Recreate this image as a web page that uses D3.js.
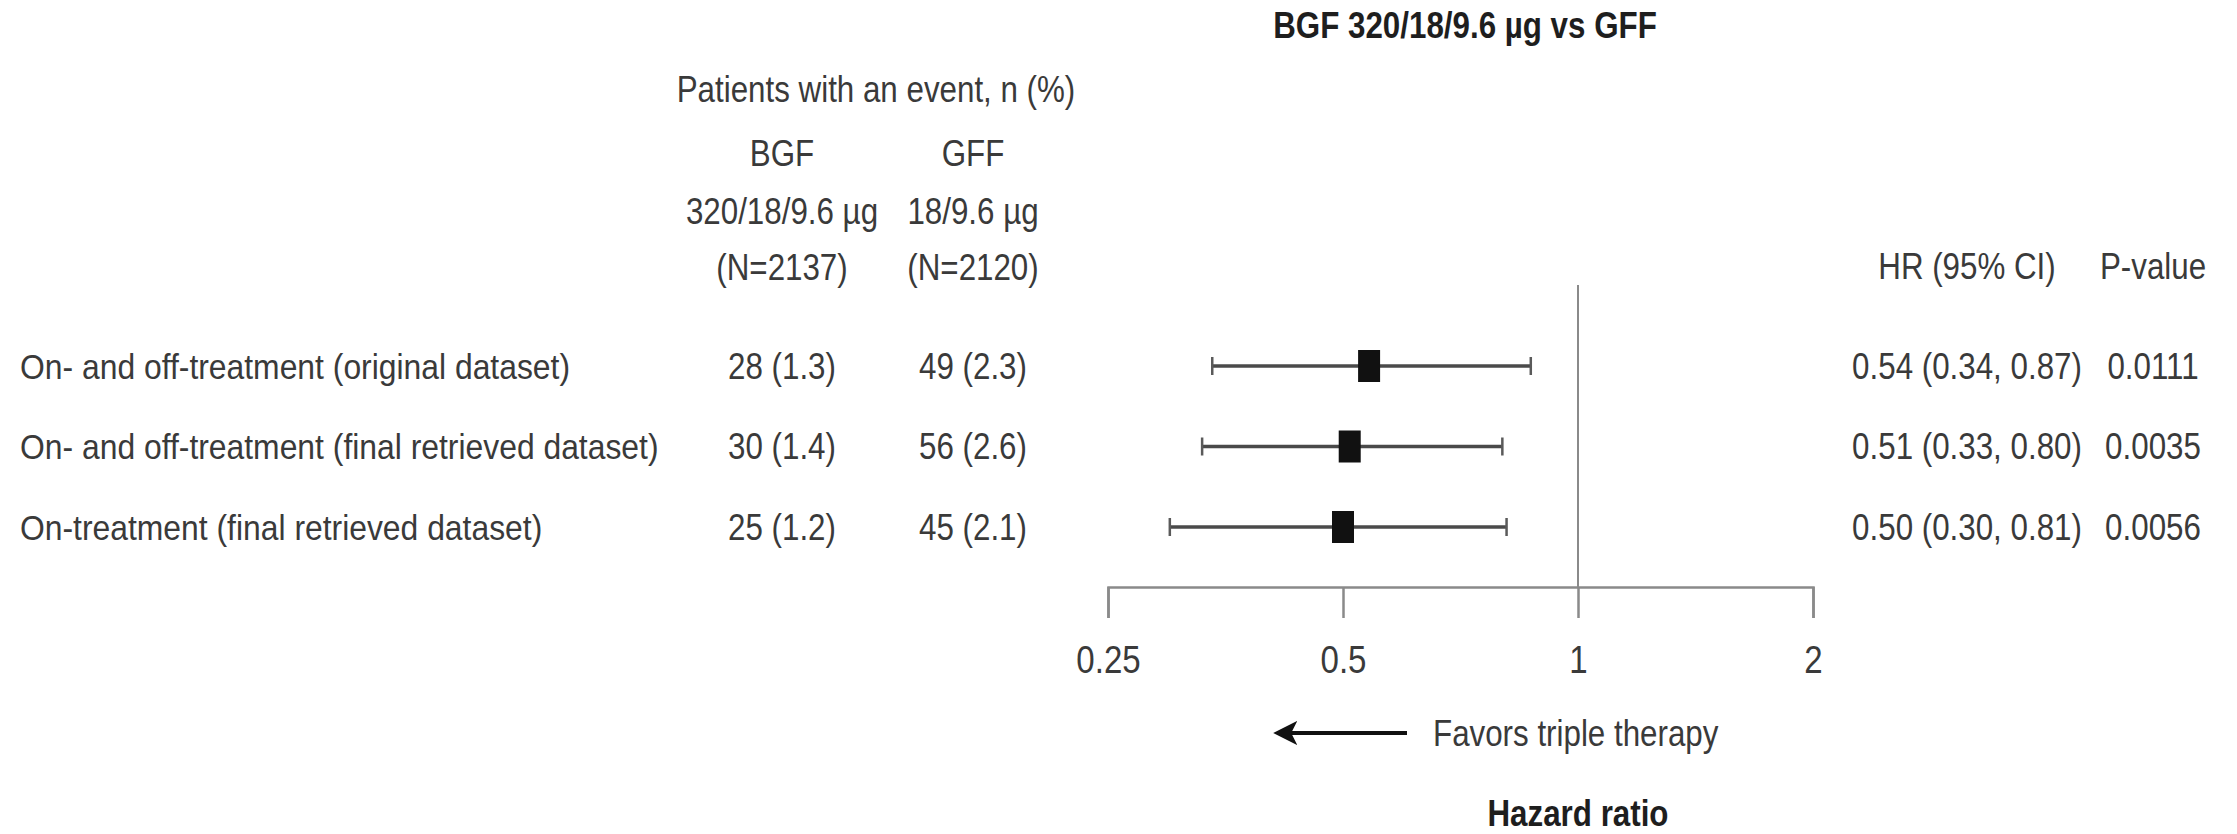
<!DOCTYPE html>
<html>
<head>
<meta charset="utf-8">
<script src="https://cdn.jsdelivr.net/npm/d3@7"></script>
<style>
  html, body { margin: 0; padding: 0; background: #fff; }
  svg { display: block; }
  text { font-family: "Liberation Sans", Arial, Helvetica, sans-serif; }
</style>
</head>
<body>
<svg id="chart" width="2237" height="834"></svg>
<script>
// ---- data ----
const rowLabels = [
  "On- and off-treatment (original dataset)",
  "On- and off-treatment (final retrieved dataset)",
  "On-treatment (final retrieved dataset)"
];
const bgfEvents = [28, 30, 25];
const bgfPct = [1.3, 1.4, 1.2];
const gffEvents = [49, 56, 45];
const gffPct = [2.3, 2.6, 2.1];
const hazardRatio = [0.54, 0.51, 0.50];
const ciLower = [0.34, 0.33, 0.30];
const ciUpper = [0.87, 0.80, 0.81];
const pValues = ["0.0111", "0.0035", "0.0056"];
const axisTicks = [0.25, 0.5, 1, 2];

// ---- layout ----
const FS = 36;          // base font size
const SX = 0.87;        // horizontal condensing of the typeface
const textColor = "#3a3a3a";
const svg = d3.select("#chart");

const x = d3.scaleLog().base(2).domain([0.25, 2]).range([1108, 1813]);
const y = d3.scalePoint().domain(rowLabels).range([366, 527]);
const axisY = 587;

// condensed text helper: places a text centred vertically on py by its cap height
function label(g, str, px, py, anchor, opts = {}) {
  return g.append("text")
    .attr("transform", `translate(${px},${py}) scale(${opts.sx || SX},1)`)
    .attr("text-anchor", anchor)
    .attr("dy", "0.36em")
    .attr("font-size", opts.size || FS)
    .attr("font-weight", opts.bold ? "bold" : "normal")
    .attr("fill", opts.fill || textColor)
    .text(str);
}

// ---- titles and column headers ----
label(svg, "BGF 320/18/9.6 µg vs GFF", 1465, 25, "middle", { bold: true, fill: "#1e1e1e" });
label(svg, "Patients with an event, n (%)", 876, 89, "middle");

const colBGF = 782, colGFF = 973;
label(svg, "BGF", colBGF, 153, "middle");
label(svg, "320/18/9.6 µg", colBGF, 211, "middle");
label(svg, "(N=2137)", colBGF, 267, "middle");
label(svg, "GFF", colGFF, 153, "middle");
label(svg, "18/9.6 µg", colGFF, 211, "middle");
label(svg, "(N=2120)", colGFF, 267, "middle");

const colHR = 1967, colP = 2153;
label(svg, "HR (95% CI)", colHR, 266, "middle");
label(svg, "P-value", colP, 266, "middle");

// ---- table rows ----
const rows = svg.append("g").attr("class", "rows");
rowLabels.forEach((name, i) => {
  const ry = y(name);
  label(rows, name, 20, ry, "start", { sx: 0.885 });
  label(rows, `${bgfEvents[i]} (${bgfPct[i].toFixed(1)})`, colBGF, ry, "middle");
  label(rows, `${gffEvents[i]} (${gffPct[i].toFixed(1)})`, colGFF, ry, "middle");
  label(rows, `${hazardRatio[i].toFixed(2)} (${ciLower[i].toFixed(2)}, ${ciUpper[i].toFixed(2)})`, colHR, ry, "middle");
  label(rows, pValues[i], colP, ry, "middle");
});

// ---- reference line at HR = 1 ----
svg.append("line")
  .attr("x1", x(1)).attr("x2", x(1))
  .attr("y1", 285).attr("y2", axisY)
  .attr("stroke", "#8a8a8a").attr("stroke-width", 2);

// ---- confidence intervals and point estimates ----
const ci = svg.append("g").attr("class", "ci");
rowLabels.forEach((name, i) => {
  const ry = y(name);
  ci.append("line")
    .attr("x1", x(ciLower[i])).attr("x2", x(ciUpper[i]))
    .attr("y1", ry).attr("y2", ry)
    .attr("stroke", "#4a4a4a").attr("stroke-width", 3.5);
  [ciLower[i], ciUpper[i]].forEach(v => {
    ci.append("line")
      .attr("x1", x(v)).attr("x2", x(v))
      .attr("y1", ry - 9).attr("y2", ry + 9)
      .attr("stroke", "#5a5a5a").attr("stroke-width", 2.5);
  });
  ci.append("rect")
    .attr("x", x(hazardRatio[i]) - 11).attr("y", ry - 16)
    .attr("width", 22).attr("height", 32)
    .attr("fill", "#111");
});

// ---- hazard ratio axis ----
const axis = d3.axisBottom(x)
  .tickValues(axisTicks)
  .tickFormat(d => String(d))
  .tickSize(31)
  .tickPadding(28);

const axisG = svg.append("g")
  .attr("transform", `translate(0,${axisY})`)
  .call(axis);
axisG.select(".domain").attr("stroke", "#8a8a8a").attr("stroke-width", 2.5);
axisG.selectAll(".tick line").attr("stroke", "#8a8a8a").attr("stroke-width", 2.5);
axisG.selectAll(".tick text")
  .attr("font-size", 38)
  .attr("font-family", "'Liberation Sans', Arial, sans-serif")
  .attr("fill", textColor)
  .attr("transform", `scale(${SX},1)`);

// ---- direction annotation ----
svg.append("defs").append("marker")
  .attr("id", "arrowhead")
  .attr("viewBox", "0 0 10 10")
  .attr("refX", 8).attr("refY", 5)
  .attr("markerWidth", 6).attr("markerHeight", 6)
  .attr("orient", "auto")
  .append("path")
  .attr("d", "M10,5 L0,0 L2.5,5 L0,10 Z")
  .attr("fill", "#111");

svg.append("line")
  .attr("x1", 1407).attr("x2", 1278)
  .attr("y1", 733).attr("y2", 733)
  .attr("stroke", "#111").attr("stroke-width", 4)
  .attr("marker-end", "url(#arrowhead)");

label(svg, "Favors triple therapy", 1433, 733, "start");
label(svg, "Hazard ratio", x(1), 813, "middle", { bold: true, fill: "#1e1e1e" });
</script>
</body>
</html>
